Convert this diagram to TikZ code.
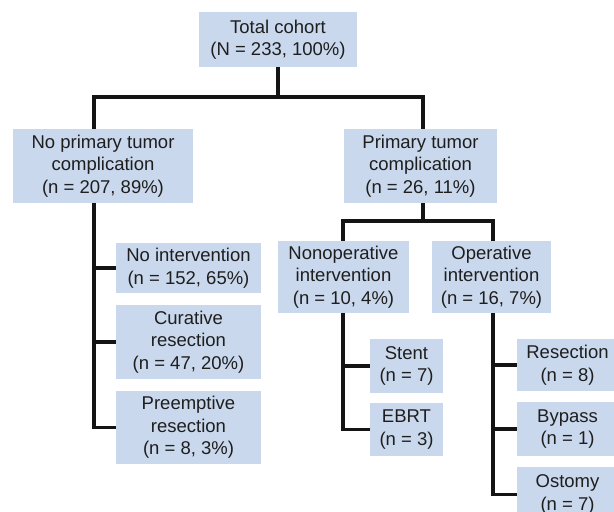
\documentclass[tikz,border=0pt]{standalone}
\usepackage{fontspec}
\setmainfont{Liberation Sans}
\definecolor{boxblue}{RGB}{201,216,237}
\definecolor{txtgray}{RGB}{30,30,30}
\definecolor{linegray}{RGB}{20,20,20}
\begin{document}
\begin{tikzpicture}[x=1pt,y=-1pt,
  box/.style={rectangle,fill=boxblue,inner sep=0pt,align=center,text=txtgray,
    font=\fontsize{18.5}{22.5}\selectfont},
  conn/.style={draw=linegray,line width=3.2pt,line cap=butt,line join=miter},
  bar/.style={conn,line cap=rect}]
\useasboundingbox (0,0) rectangle (614,512);
\clip (0,0) rectangle (614,512);
% junction coordinates
\coordinate (j1) at (278,97);
\coordinate (j1l) at (94,97);
\coordinate (j1r) at (423,97);
\coordinate (j2) at (423,221);
\coordinate (j2l) at (343,221);
\coordinate (j2r) at (493,221);
\coordinate (Lx) at (94,0);
\coordinate (Nx) at (343,0);
\coordinate (Ox) at (493,0);
% nodes
\node[box,minimum width=158,minimum height=55] (top) at (278,39.5) {Total cohort\\(N = 233, 100\%)};
\node[box,minimum width=180,minimum height=74] (npc) at (103,166) {No primary tumor\\complication\\(n = 207, 89\%)};
\node[box,minimum width=153,minimum height=74] (ptc) at (420.5,166) {Primary tumor\\complication\\(n = 26, 11\%)};
\node[box,minimum width=145,minimum height=50] (noint) at (188.5,268) {No intervention\\(n = 152, 65\%)};
\node[box,minimum width=145,minimum height=74] (cur) at (188.5,342) {Curative\\resection\\(n = 47, 20\%)};
\node[box,minimum width=145,minimum height=73] (pre) at (188.5,427.5) {Preemptive\\resection\\(n = 8, 3\%)};
\node[box,minimum width=131,minimum height=72] (nonop) at (343.5,277) {Nonoperative\\intervention\\(n = 10, 4\%)};
\node[box,minimum width=119,minimum height=72] (op) at (491.5,277) {Operative\\intervention\\(n = 16, 7\%)};
\node[box,minimum width=73,minimum height=54] (stent) at (406.5,366) {Stent\\(n = 7)};
\node[box,minimum width=73,minimum height=53] (ebrt) at (406.5,429.5) {EBRT\\(n = 3)};
\node[box,minimum width=101,minimum height=52] (resec) at (567.5,365) {Resection\\(n = 8)};
\node[box,minimum width=101,minimum height=54] (bypass) at (567.5,429) {Bypass\\(n = 1)};
\node[box,minimum width=101,minimum height=55] (ostomy) at (567.5,494.5) {Ostomy\\(n = 7)};
% connectors: top level
\draw[conn] (top.south) -- (j1);
\draw[bar] (j1l) -- (j1r);
\draw[conn] (j1l) -- (j1l |- npc.north);
\draw[conn] (j1r) -- (j1r |- ptc.north);
% left branch
\draw[conn] (npc.south -| Lx) -- (Lx |- pre.west) -- (pre.west);
\draw[conn] (Lx |- noint.west) -- (noint.west);
\draw[conn] (Lx |- cur.west) -- (cur.west);
% right branch
\draw[conn] (ptc.south -| j2) -- (j2);
\draw[bar] (j2l) -- (j2r);
\draw[conn] (j2l) -- (nonop.north -| j2l);
\draw[conn] (j2r) -- (op.north -| j2r);
\draw[conn] (nonop.south -| Nx) -- (Nx |- ebrt.west) -- (ebrt.west);
\draw[conn] (Nx |- stent.west) -- (stent.west);
\draw[conn] (op.south -| Ox) -- (Ox |- ostomy.west) -- (ostomy.west);
\draw[conn] (Ox |- resec.west) -- (resec.west);
\draw[conn] (Ox |- bypass.west) -- (bypass.west);
\end{tikzpicture}
\end{document}
